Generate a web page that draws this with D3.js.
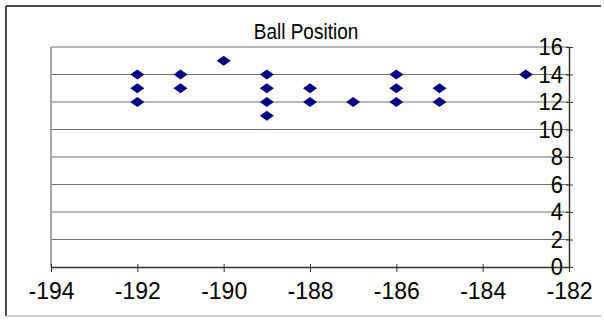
<!DOCTYPE html>
<html>
<head>
<meta charset="utf-8">
<script src="https://cdn.jsdelivr.net/npm/d3@7"></script>
<style>
  html, body { margin: 0; padding: 0; background: #fff; }
  svg { display: block; font-family: "Liberation Sans", Arial, sans-serif; }
</style>
</head>
<body>
<svg id="chart" width="604" height="320"></svg>
<script>
// Ball position samples: x coordinate and the matching height
const xValues = [-192, -192, -192, -191, -191, -190, -189, -189, -189, -189,
                 -188, -188, -187, -186, -186, -186, -185, -185, -183];
const yValues = [12, 13, 14, 13, 14, 15, 11, 12, 13, 14,
                 12, 13, 12, 12, 13, 14, 12, 13, 14];
const xTicks = [-194, -192, -190, -188, -186, -184, -182];
const yTicks = [0, 2, 4, 6, 8, 10, 12, 14, 16];
const title = "Ball Position";

const svg = d3.select("#chart");
const plot = { left: 51, right: 569, top: 47, bottom: 267 };
const labelFont = "Liberation Sans, Arial, sans-serif";

const x = d3.scaleLinear().domain([-194, -182]).range([plot.left, plot.right]);
const y = d3.scaleLinear().domain([0, 16]).range([plot.bottom, plot.top]);

// chart frame
svg.append("line").attr("x1", 6).attr("y1", 6).attr("x2", 6).attr("y2", 316)
  .attr("stroke", "#111").attr("stroke-width", 1.5);
svg.append("line").attr("x1", 6).attr("y1", 6).attr("x2", 601).attr("y2", 6)
  .attr("stroke", "#111").attr("stroke-width", 1.5);
svg.append("line").attr("x1", 6).attr("y1", 316).attr("x2", 601).attr("y2", 316)
  .attr("stroke", "#bbb").attr("stroke-width", 1.5);

// title
svg.append("text")
  .attr("transform", "translate(306,39) scale(1,1.12)")
  .attr("text-anchor", "middle")
  .attr("font-size", 19)
  .attr("fill", "#000")
  .text(title);

// horizontal gridlines
svg.append("g").selectAll("line")
  .data(yTicks.filter(d => d > 0))
  .join("line")
  .attr("x1", plot.left).attr("x2", plot.right)
  .attr("y1", d => y(d)).attr("y2", d => y(d))
  .attr("stroke", "#707070").attr("stroke-width", 1.2);

// left edge of plot area
svg.append("line")
  .attr("x1", plot.left).attr("x2", plot.left)
  .attr("y1", plot.top).attr("y2", plot.bottom)
  .attr("stroke", "#888").attr("stroke-width", 1.5);

// x axis
const xAxis = svg.append("g")
  .attr("transform", `translate(0,${plot.bottom})`)
  .call(d3.axisBottom(x).tickValues(xTicks).tickSize(5).tickPadding(9).tickSizeOuter(0)
    .tickFormat(d => d));
xAxis.select(".domain").attr("stroke", "#333").attr("stroke-width", 1.5);
xAxis.selectAll(".tick line").attr("stroke", "#333").attr("y1", -3);
xAxis.selectAll("text")
  .attr("font-size", 23).attr("fill", "#000").attr("font-family", labelFont)
  .attr("y", 0).attr("dy", null)
  .attr("transform", "translate(0,32) scale(1,1.06)");

// y axis on the right edge, labels inside
const yAxis = svg.append("g")
  .attr("transform", `translate(${plot.right},0)`)
  .call(d3.axisLeft(y).tickValues(yTicks).tickSize(-4).tickPadding(6).tickSizeOuter(0));
yAxis.select(".domain").attr("stroke", "#333").attr("stroke-width", 1.5);
yAxis.selectAll(".tick line").attr("stroke", "#333").attr("x1", -3);
yAxis.selectAll("text")
  .attr("font-size", 22).attr("fill", "#000").attr("font-family", labelFont)
  .attr("x", 0).attr("dy", null).attr("y", 0)
  .attr("transform", "translate(-6,7.5) scale(1,1.06)");

// diamond markers
const pts = xValues.map((v, i) => ({ x: v, y: yValues[i] }));
svg.append("g").selectAll("path")
  .data(pts)
  .join("path")
  .attr("transform", d => `translate(${x(d.x)},${y(d.y)})`)
  .attr("d", "M0,-5L7,0L0,5L-7,0Z")
  .attr("fill", "#000080");
</script>
</body>
</html>
